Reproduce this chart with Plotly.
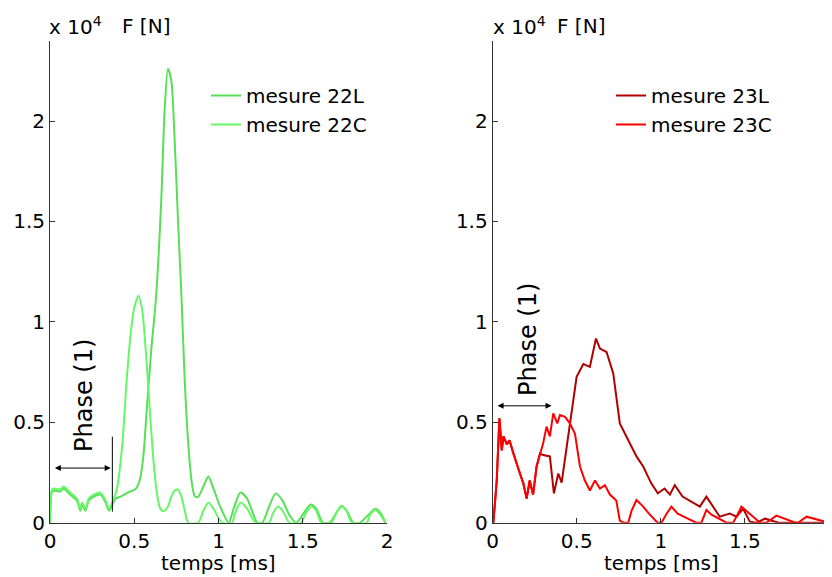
import plotly.graph_objects as go

# ---- data (time in ms, force in units of 1e4 N) ----
t_early = [0.0, 0.01, 0.02, 0.06, 0.08, 0.12, 0.16, 0.18, 0.19, 0.21, 0.23, 0.26, 0.30, 0.33, 0.35, 0.37]
f_early = [0.0, 0.15, 0.16, 0.155, 0.17, 0.14, 0.11, 0.06, 0.09, 0.06, 0.11, 0.13, 0.14, 0.10, 0.06, 0.09]

t_22L = t_early + [0.39, 0.42, 0.46, 0.49, 0.51, 0.535, 0.555, 0.574, 0.60, 0.63, 0.66, 0.68, 0.70, 0.72, 0.74, 0.76, 0.78, 0.80, 0.82, 0.84, 0.86, 0.88, 0.91, 0.94, 0.97, 1.01, 1.06, 1.09, 1.13, 1.17, 1.23, 1.26, 1.30, 1.34, 1.38, 1.42, 1.46, 1.50, 1.545, 1.58, 1.62, 1.66, 1.70, 1.73, 1.76, 1.80, 1.84, 1.89, 1.93, 1.96, 1.99]
f_22L = f_early + [0.12, 0.13, 0.15, 0.16, 0.17, 0.22, 0.34, 0.56, 0.85, 1.13, 1.6, 2.05, 2.26, 2.2, 1.9, 1.5, 1.13, 0.7, 0.4, 0.21, 0.13, 0.13, 0.18, 0.23, 0.17, 0.08, 0.0, 0.07, 0.15, 0.12, 0.0, 0.0, 0.08, 0.146, 0.11, 0.04, 0.0, 0.04, 0.09, 0.07, 0.0, 0.0, 0.05, 0.085, 0.06, 0.0, 0.0, 0.04, 0.07, 0.05, 0.0]

t_22C = t_early + [0.38, 0.40, 0.43, 0.455, 0.48, 0.50, 0.525, 0.545, 0.555, 0.575, 0.594, 0.615, 0.634, 0.65, 0.663, 0.68, 0.70, 0.72, 0.74, 0.76, 0.78, 0.80, 0.82, 0.88, 0.91, 0.94, 0.97, 1.02, 1.08, 1.10, 1.13, 1.17, 1.22, 1.30, 1.32, 1.35, 1.38, 1.42, 1.49, 1.52, 1.55, 1.58, 1.61, 1.67, 1.70, 1.73, 1.76, 1.79, 1.88, 1.90, 1.93, 1.96, 1.99]
f_22C = [v + 0.01 for v in f_early] + [0.12, 0.18, 0.40, 0.71, 0.95, 1.07, 1.13, 1.07, 1.0, 0.78, 0.54, 0.30, 0.15, 0.08, 0.06, 0.06, 0.08, 0.13, 0.16, 0.165, 0.13, 0.06, 0.0, 0.0, 0.06, 0.10, 0.07, 0.0, 0.0, 0.05, 0.10, 0.07, 0.0, 0.0, 0.04, 0.08, 0.06, 0.0, 0.0, 0.05, 0.08, 0.06, 0.0, 0.0, 0.05, 0.08, 0.06, 0.0, 0.0, 0.04, 0.065, 0.04, 0.0]

t_r_early = [0.0, 0.004, 0.024, 0.04, 0.054, 0.064, 0.084, 0.10, 0.123, 0.143, 0.162, 0.182, 0.202, 0.220, 0.24, 0.261, 0.281]
f_r_early = [0.0, 0.0, 0.21, 0.52, 0.36, 0.43, 0.39, 0.41, 0.345, 0.29, 0.245, 0.196, 0.12, 0.21, 0.14, 0.28, 0.345]

t_23L = t_r_early + [0.30, 0.34, 0.364, 0.39, 0.41, 0.44, 0.469, 0.499, 0.539, 0.578, 0.614, 0.638, 0.677, 0.717, 0.756, 0.796, 0.855, 0.895, 0.943, 0.982, 1.022, 1.054, 1.083, 1.129, 1.188, 1.232, 1.271, 1.311, 1.350, 1.410, 1.450, 1.489, 1.529, 1.57, 1.62, 1.66, 1.70, 1.75, 2.0]
f_23L = f_r_early + [0.337, 0.33, 0.146, 0.245, 0.20, 0.378, 0.54, 0.726, 0.79, 0.776, 0.917, 0.867, 0.85, 0.743, 0.494, 0.428, 0.33, 0.28, 0.196, 0.146, 0.17, 0.14, 0.187, 0.13, 0.10, 0.08, 0.13, 0.08, 0.03, 0.046, 0.03, 0.07, 0.005, 0.0, 0.02, 0.01, 0.0, 0.0, 0.0]

t_23C = t_r_early + [0.30, 0.32, 0.34, 0.36, 0.384, 0.400, 0.430, 0.459, 0.489, 0.519, 0.548, 0.578, 0.608, 0.638, 0.667, 0.697, 0.735, 0.756, 0.776, 0.806, 0.826, 0.855, 0.895, 0.924, 0.98, 1.004, 1.034, 1.063, 1.10, 1.21, 1.241, 1.271, 1.301, 1.39, 1.430, 1.459, 1.479, 1.59, 1.628, 1.687, 1.80, 1.816, 1.867, 2.0]
f_23C = f_r_early + [0.395, 0.478, 0.43, 0.544, 0.494, 0.536, 0.527, 0.495, 0.444, 0.28, 0.21, 0.16, 0.21, 0.17, 0.187, 0.14, 0.11, 0.01, 0.0, 0.0, 0.06, 0.113, 0.08, 0.05, 0.0, 0.0, 0.045, 0.08, 0.045, 0.0, 0.0, 0.063, 0.04, 0.0, 0.0, 0.045, 0.08, 0.0, 0.0, 0.035, 0.0, 0.0, 0.03, 0.0, 0.0]

x_ticks = [0, 0.5, 1, 1.5, 2]
x_labels = ["0", "0.5", "1", "1.5", "2"]
y_ticks = [0, 0.5, 1, 1.5, 2]
y_labels = ["0", "0.5", "1", "1.5", "2"]

FONT = "DejaVu Sans, Liberation Sans, sans-serif"
OFF = 8                      # page body margin
W, H = 832 - OFF, 577 - OFF


def px(sx):
    return (sx - OFF) / W


def py(sy):
    return 1 - (sy - OFF) / H


fig = go.Figure()
fig.add_trace(go.Scatter(x=t_22L, y=f_22L, mode="lines", name="mesure 22L",
                         line=dict(color="#55e055", width=2, shape="spline", smoothing=0.7),
                         xaxis="x", yaxis="y", legend="legend"))
fig.add_trace(go.Scatter(x=t_22C, y=f_22C, mode="lines", name="mesure 22C",
                         line=dict(color="#66f766", width=2, shape="spline", smoothing=0.7),
                         xaxis="x", yaxis="y", legend="legend"))
fig.add_trace(go.Scatter(x=t_23L, y=f_23L, mode="lines", name="mesure 23L",
                         line=dict(color="#b00000", width=2), xaxis="x2", yaxis="y2", legend="legend2"))
fig.add_trace(go.Scatter(x=t_23C, y=f_23C, mode="lines", name="mesure 23C",
                         line=dict(color="#ff0000", width=2), xaxis="x2", yaxis="y2", legend="legend2"))

axis_common = dict(showline=True, linecolor="#333", linewidth=1, ticks="inside", ticklen=5,
                   tickcolor="#333", showgrid=False, zeroline=False, automargin=False,
                   ticklabeloverflow="allow",
                   tickfont=dict(family=FONT, size=20, color="black"))

fig.update_layout(
    width=W, height=H, margin=dict(l=0, r=0, t=0, b=0, autoexpand=False),
    plot_bgcolor="white", paper_bgcolor="white",
    xaxis=dict(domain=[px(50), px(387)], range=[0, 2], tickvals=x_ticks, ticktext=x_labels,
               anchor="y", **axis_common),
    yaxis=dict(domain=[py(522.7), py(40.7)], range=[0, 2.4], tickvals=y_ticks, ticktext=y_labels,
               anchor="x", **axis_common),
    xaxis2=dict(domain=[px(492.7), px(829)], range=[0, 2], tickvals=x_ticks, ticktext=x_labels,
                anchor="y2", **axis_common),
    yaxis2=dict(domain=[py(522.7), py(40.7)], range=[0, 2.4], tickvals=y_ticks, ticktext=y_labels,
                anchor="x2", **axis_common),
    legend=dict(x=px(206), y=py(76), xanchor="left", yanchor="top",
                bgcolor="rgba(0,0,0,0)", font=dict(family=FONT, size=20, color="black")),
    legend2=dict(x=px(611), y=py(76), xanchor="left", yanchor="top",
                 bgcolor="rgba(0,0,0,0)", font=dict(family=FONT, size=20, color="black")),
    showlegend=True,
)

annotations = []
for xl, xf in [(47, 120), (491, 555)]:
    annotations.append(dict(xref="paper", yref="paper", x=px(xl), y=py(26), xanchor="left",
                            yanchor="middle", showarrow=False, text="x 10<sup>4</sup>",
                            font=dict(family=FONT, size=20, color="black")))
    annotations.append(dict(xref="paper", yref="paper", x=px(xf), y=py(26), xanchor="left",
                            yanchor="middle", showarrow=False, text="F [N]",
                            font=dict(family=FONT, size=20, color="black")))
for xc in [218, 661]:
    annotations.append(dict(xref="paper", yref="paper", x=px(xc), y=py(563), xanchor="center",
                            yanchor="middle", showarrow=False, text="temps [ms]",
                            font=dict(family=FONT, size=20, color="black")))
# Phase (1) labels
annotations.append(dict(xref="paper", yref="paper", x=px(84), y=py(396), xanchor="center",
                        yanchor="middle", showarrow=False, text="Phase (1)", textangle=-90,
                        font=dict(family=FONT, size=24, color="black")))
annotations.append(dict(xref="paper", yref="paper", x=px(528), y=py(340), xanchor="center",
                        yanchor="middle", showarrow=False, text="Phase (1)", textangle=-90,
                        font=dict(family=FONT, size=24, color="black")))
# double arrows
for xr, yr, x0, x1, yv in [("x", "y", 0.02, 0.36, 0.272), ("x2", "y2", 0.02, 0.35, 0.582)]:
    annotations.append(dict(xref=xr, yref=yr, axref=xr, ayref=yr, x=x1, y=yv, ax=x0, ay=yv,
                            text="", showarrow=True, arrowside="end+start", arrowhead=2,
                            arrowsize=1.2, arrowwidth=1, arrowcolor="black"))
fig.update_layout(annotations=annotations)

fig.add_shape(type="line", xref="x", yref="y", x0=0.37, x1=0.37, y0=0.055, y1=0.428,
              line=dict(color="black", width=1))

fig.write_html("out.html")
